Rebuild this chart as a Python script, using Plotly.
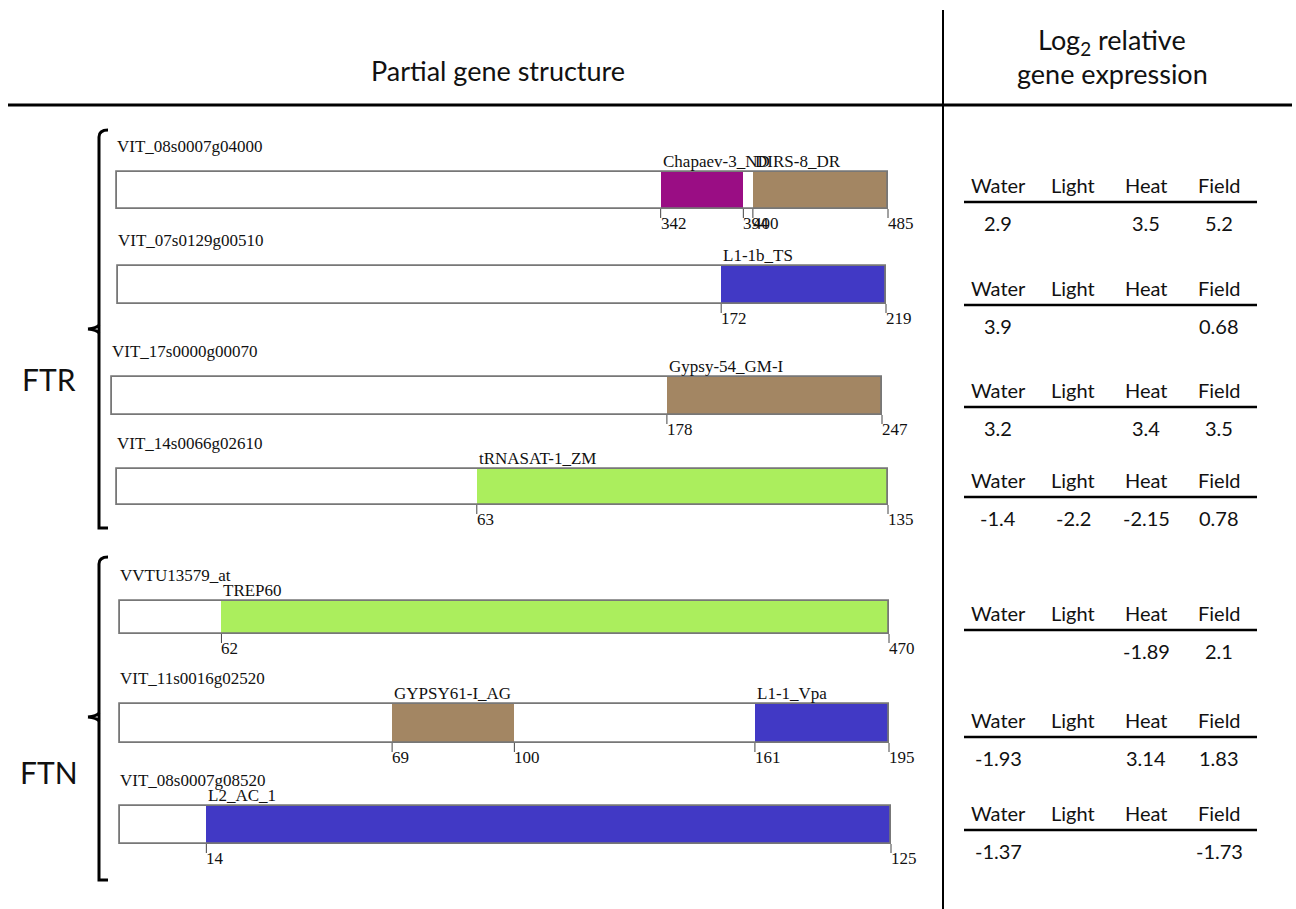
import plotly.graph_objects as go

# ---------------- data ----------------
gene_ids = ["VIT_08s0007g04000", "VIT_07s0129g00510", "VIT_17s0000g00070",
            "VIT_14s0066g02610", "VVTU13579_at", "VIT_11s0016g02520",
            "VIT_08s0007g08520"]
gene_lengths = [485, 219, 247, 135, 470, 195, 125]

# transposable-element hits inside each partial gene
feature_gene = [0, 0, 1, 2, 3, 4, 5, 5, 6]
feature_names = ["Chapaev-3_ND", "DIRS-8_DR", "L1-1b_TS", "Gypsy-54_GM-I",
                 "tRNASAT-1_ZM", "TREP60", "GYPSY61-I_AG", "L1-1_Vpa", "L2_AC_1"]
feature_starts = [342, 400, 172, 178, 63, 62, 69, 161, 14]
feature_ends = [394, 485, 219, 247, 135, 470, 100, 195, 125]

groups = ["FTR", "FTN"]
group_members = [[0, 1, 2, 3], [4, 5, 6]]

conditions = ["Water", "Light", "Heat", "Field"]
water = [2.9, 3.9, 3.2, -1.4, None, -1.93, -1.37]
light = [None, None, None, -2.2, None, None, None]
heat = [3.5, None, 3.4, -2.15, -1.89, 3.14, None]
field = [5.2, 0.68, 3.5, 0.78, 2.1, 1.83, -1.73]

# ---------------- styles / layout ----------------
W, H = 1296, 909
PURPLE, BROWN, BLUE, GREEN = "#9A0D84", "#A38663", "#4139C5", "#ABEE5D"
feature_colors = [PURPLE, BROWN, BLUE, BROWN, GREEN, GREEN, BROWN, BLUE, BLUE]

row_left = [117, 118, 112, 117, 120, 120, 120]
row_right = [888, 886, 882, 888, 889, 889, 891]
row_top = [172, 266, 377, 469, 601, 704, 806]
row_bottom = [209, 304, 415, 505, 634, 743, 844]
table_header_y = [185, 288, 390, 480, 613, 720, 813]
col_x = [998, 1073, 1146, 1219]

bracket_top = [130, 557]
bracket_bottom = [528, 880]
bracket_mid = [329, 717]
group_label_y = [379, 772]

SERIF = "Liberation Serif"
SANS = "Lato"
OUTLINE = "#777777"
PAD = 4  # px of breathing room around each gene axis so outlines are not clipped

fig = go.Figure()
annotations = []
shapes = []

layout_axes = {}
for i, L in enumerate(gene_lengths):
    ax = f"x{i + 2}"
    key = f"xaxis{i + 2}"
    span = row_right[i] - row_left[i]
    u = PAD * L / span  # PAD pixels expressed in sequence units
    layout_axes[key] = dict(domain=[(row_left[i] - PAD) / W, (row_right[i] + PAD) / W],
                            range=[-u, L + u], visible=False, anchor="y",
                            fixedrange=True)
    yc = (row_top[i] + row_bottom[i]) / 2
    h = row_bottom[i] - row_top[i]
    # gene body
    fig.add_trace(go.Bar(x=[L], base=[0], y=[yc], width=h, orientation="h",
                         xaxis=ax, yaxis="y", cliponaxis=False,
                         marker=dict(color="white", line=dict(width=0)),
                         hoverinfo="skip", showlegend=False))
    # features
    for j, g in enumerate(feature_gene):
        if g != i:
            continue
        s, e = feature_starts[j], feature_ends[j]
        fig.add_trace(go.Bar(x=[e - s], base=[s], y=[yc], width=h, orientation="h",
                             xaxis=ax, yaxis="y", cliponaxis=False,
                             marker=dict(color=feature_colors[j], line=dict(width=0)),
                             hoverinfo="skip", showlegend=False))
        annotations.append(dict(x=s, y=row_top[i] - 11, xref=ax, yref="y",
                                text=feature_names[j], showarrow=False,
                                xanchor="left", yanchor="middle",
                                font=dict(family=SERIF, size=17, color="#111")))
        for p in (s, e):
            shapes.append(dict(type="line", xref=ax, yref="y", x0=p, x1=p,
                               y0=row_bottom[i], y1=row_bottom[i] + 9,
                               line=dict(color="#444", width=1)))
            annotations.append(dict(x=p, y=row_bottom[i] + 14, xref=ax, yref="y",
                                    text=str(p), showarrow=False,
                                    xanchor="left", yanchor="middle", xshift=-2,
                                    font=dict(family=SERIF, size=17, color="#111")))
    # outline over the body
    fig.add_trace(go.Bar(x=[L], base=[0], y=[yc], width=h, orientation="h",
                         xaxis=ax, yaxis="y", cliponaxis=False,
                         marker=dict(color="rgba(0,0,0,0)", line=dict(color=OUTLINE, width=1.8)),
                         hoverinfo="skip", showlegend=False))
    # gene name
    annotations.append(dict(x=0, y=row_top[i] - 26, xref=ax, yref="y",
                            text=gene_ids[i], showarrow=False,
                            xanchor="left", yanchor="middle", xshift=-2,
                            font=dict(family=SERIF, size=17, color="#111")))

# ---------------- expression tables ----------------
values = [water, light, heat, field]
for i in range(len(gene_ids)):
    yh = table_header_y[i]
    for c, name in enumerate(conditions):
        annotations.append(dict(x=col_x[c], y=yh, xref="x", yref="y", text=name,
                                showarrow=False, xanchor="center", yanchor="middle",
                                font=dict(family=SANS, size=20, color="#111")))
        v = values[c][i]
        if v is not None:
            annotations.append(dict(x=col_x[c], y=yh + 38, xref="x", yref="y",
                                    text=str(v), showarrow=False,
                                    xanchor="center", yanchor="middle",
                                    font=dict(family=SANS, size=20, color="#111")))
    shapes.append(dict(type="line", xref="x", yref="y", x0=964, x1=1257,
                       y0=yh + 17, y1=yh + 17, line=dict(color="black", width=2.5)))

# ---------------- frame and headers ----------------
shapes.append(dict(type="line", xref="x", yref="y", x0=943, x1=943, y0=10, y1=H,
                   line=dict(color="black", width=2)))
shapes.append(dict(type="line", xref="x", yref="y", x0=8, x1=1292, y0=105, y1=105,
                   line=dict(color="black", width=3)))
annotations.append(dict(x=498, y=70, xref="x", yref="y", text="Partial gene structure",
                        showarrow=False, xanchor="center", yanchor="middle",
                        font=dict(family=SANS, size=27, color="#111")))
annotations.append(dict(x=1112, y=41, xref="x", yref="y", text="Log<sub>2</sub> relative",
                        showarrow=False, xanchor="center", yanchor="middle",
                        font=dict(family=SANS, size=27, color="#111")))
annotations.append(dict(x=1112, y=73, xref="x", yref="y", text="gene expression",
                        showarrow=False, xanchor="center", yanchor="middle",
                        font=dict(family=SANS, size=27, color="#111")))

# group brackets
for k, grp in enumerate(groups):
    t, b, m = bracket_top[k], bracket_bottom[k], bracket_mid[k]
    shapes.append(dict(type="path", xref="x", yref="y",
                       path=f"M 108 {t} Q 99 {t} 99 {t + 7} L 99 {b} L 108 {b}",
                       line=dict(color="black", width=3)))
    shapes.append(dict(type="path", xref="x", yref="y",
                       path=f"M 88 {m} Q 97 {m - 1} 99 {m - 4} M 88 {m} Q 97 {m + 1} 99 {m + 4}",
                       line=dict(color="black", width=3)))
    annotations.append(dict(x=49, y=group_label_y[k], xref="x", yref="y", text=grp,
                            showarrow=False, xanchor="center", yanchor="middle",
                            font=dict(family=SANS, size=30, color="#111")))

fig.update_layout(
    width=W, height=H, margin=dict(l=0, r=0, t=0, b=0),
    paper_bgcolor="white", plot_bgcolor="rgba(0,0,0,0)",
    barmode="overlay", bargap=0,
    xaxis=dict(range=[0, W], domain=[0, 1], visible=False, fixedrange=True),
    yaxis=dict(range=[H, 0], domain=[0, 1], visible=False, fixedrange=True),
    shapes=shapes, annotations=annotations, showlegend=False,
    **layout_axes,
)

fig.write_html("out.html", config={"displayModeBar": False})
